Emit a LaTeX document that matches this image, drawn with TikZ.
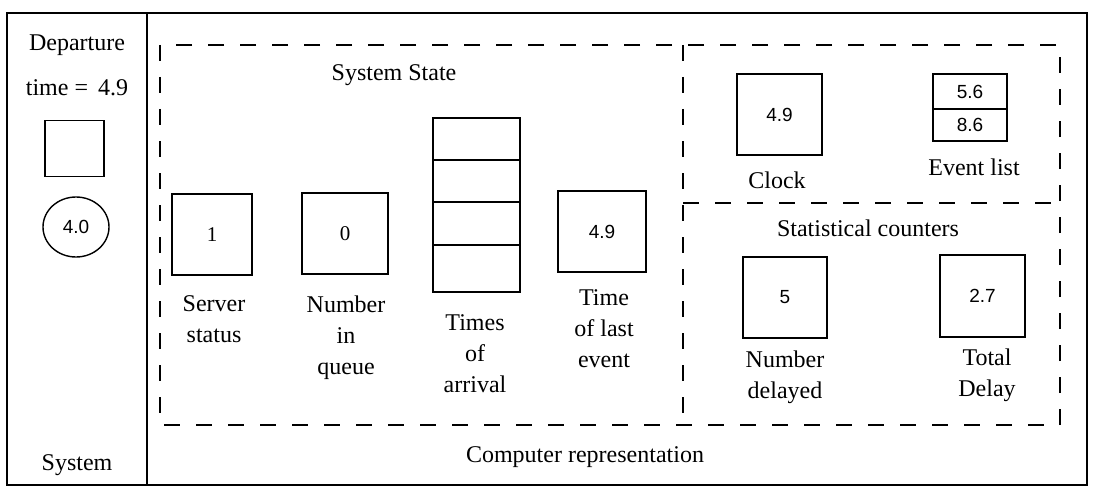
\documentclass[tikz,border=0pt]{standalone}
\usepackage{fontspec}
\setmainfont{Liberation Serif}
\newfontfamily\numfont{Liberation Sans}
\usetikzlibrary{shapes.geometric}
\tikzset{
  lbl/.style={font=\fontsize{24}{31}\selectfont, align=center, inner sep=0pt},
  cell/.style={draw, line width=1.4pt, inner sep=0pt, font=\numfont\fontsize{19}{22}\selectfont},
  cellserif/.style={cell, font=\fontsize{21}{24}\selectfont},
  frame/.style={line width=2pt},
  dashbox/.style={line width=1.5pt, dash pattern=on 16pt off 16pt},
}
\begin{document}
\begin{tikzpicture}[x=1pt,y=-1pt]
\useasboundingbox (0,0) rectangle (1094,492);
% outer frame
\draw[frame] (7,13) rectangle (1087,485);
\coordinate (dtop) at (147,13);
\coordinate (dbot) at (147,485);
\draw[frame] (dtop) -- (dbot);

% left column: System
\node[lbl] (dep) at (77,45) {Departure};
\node[lbl] (dtime) at (77,88) {time = \,4.9};
\node[cell, minimum width=59pt, minimum height=56pt] (dsq) at (74.5,148.5) {};
\node[cell, ellipse, minimum width=66pt, minimum height=60pt] (dcirc) at (76,227) {4.0};
\node[lbl] (sys) at (77,465) {System};

% dashed regions
\coordinate (dv1) at (683,45);
\coordinate (dv2) at (683,425);
\coordinate (dh1) at (683,203);
\coordinate (dh2) at (1060,203);
\draw[dashbox] (160,45) rectangle (1060,425);
\draw[dashbox] (dv1) -- (dv2);
\draw[dashbox] (dh1) -- (dh2);

% System state
\node[lbl] (sstate) at (394,75) {System State};
\node[cellserif, minimum width=80pt, minimum height=81pt] (srv) at (212,234.5) {1};
\node[cellserif, minimum width=86pt, minimum height=81pt] (nq) at (345,233.5) {0};
\node[cell, minimum width=87pt, minimum height=42pt] (arr1) at (476.5,139) {};
\node[cell, minimum width=87pt, minimum height=42pt] (arr2) at (476.5,181) {};
\node[cell, minimum width=87pt, minimum height=43pt] (arr3) at (476.5,223.5) {};
\node[cell, minimum width=87pt, minimum height=47pt] (arr4) at (476.5,268.5) {};
\node[cell, minimum width=88pt, minimum height=81pt] (tle) at (602,231.5) {4.9};

\node[lbl] (lsrv) at (214,319) {Server\\status};
\node[lbl] (lnq) at (346,338) {Number\\in\\queue};
\node[lbl] (larr) at (475,354) {Times\\of\\arrival};
\node[lbl] (ltle) at (604,329) {Time\\of last\\event};

% clock and event list
\node[cell, minimum width=85pt, minimum height=81pt] (clock) at (779.5,114.5) {4.9};
\node[cell, minimum width=74pt, minimum height=35pt] (ev1) at (970,91.5) {5.6};
\node[cell, minimum width=74pt, minimum height=32pt] (ev2) at (970,125) {8.6};
\node[lbl] (lclock) at (777,180) {Clock};
\node[lbl] (lev) at (974,167) {Event list};

% statistical counters
\node[lbl] (lstat) at (868,228) {Statistical counters};
\node[cell, minimum width=84pt, minimum height=81pt] (nd) at (785,297.5) {5};
\node[cell, minimum width=85pt, minimum height=82pt] (td) at (982.5,296) {2.7};
\node[lbl] (lnd) at (785,377) {Number\\delayed};
\node[lbl] (ltd) at (987,375) {Total\\Delay};

\node[lbl] (comp) at (585,457) {Computer representation};
\end{tikzpicture}
\end{document}
